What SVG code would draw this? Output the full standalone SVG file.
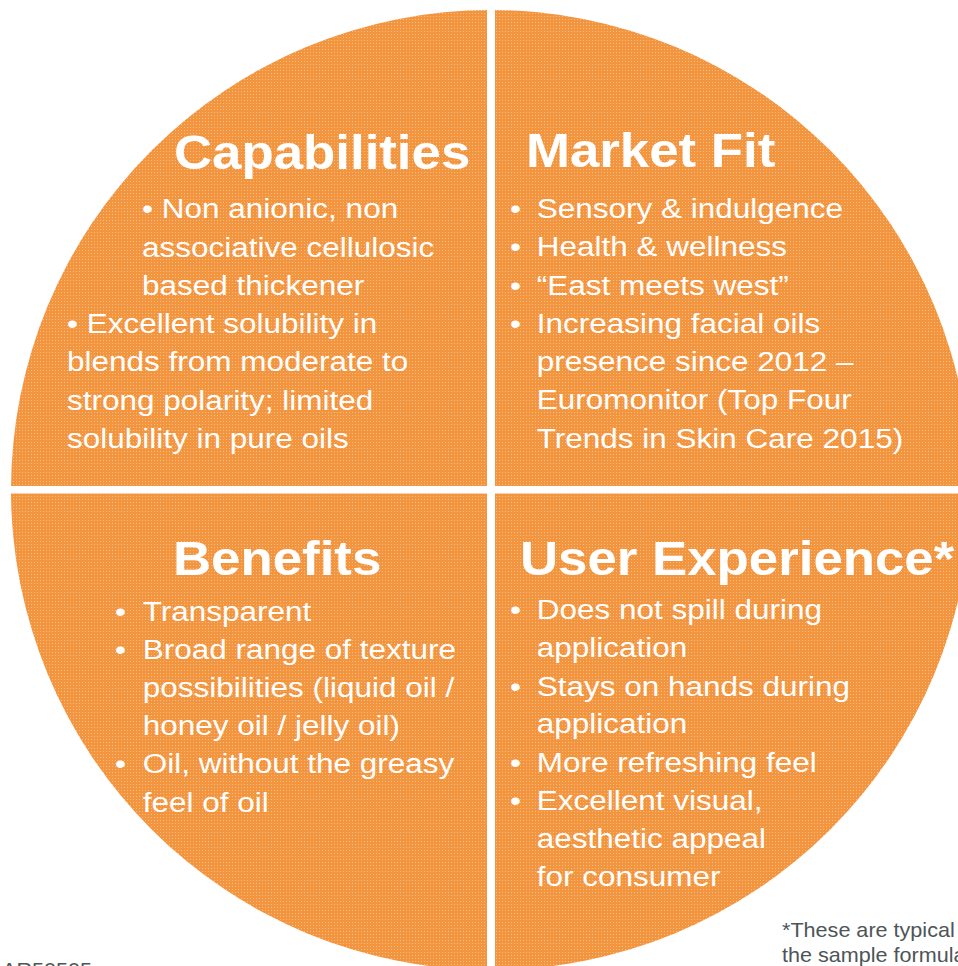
<svg xmlns="http://www.w3.org/2000/svg" width="958" height="966" viewBox="0 0 958 966">
  <defs>
    <pattern id="tex" width="3" height="3" patternUnits="userSpaceOnUse">
      <rect width="3" height="3" fill="#F3953F"/>
      <rect x="1" y="1" width="1" height="1" fill="#F9BE86"/>
    </pattern>
    <style>
      .t { font-family: "Liberation Sans", Arial, sans-serif; font-weight: bold; font-size: 48px; fill: #FFFFFF; }
      .b { font-family: "Liberation Sans", Arial, sans-serif; font-size: 28px; fill: #FFFFFF; }
      .n { font-family: "Liberation Sans", Arial, sans-serif; font-size: 20px; fill: #4D5558; }
    </style>
  </defs>
  <rect width="958" height="966" fill="#FFFFFF"/>
  <g id="circle">
    <circle cx="491" cy="490" r="480" fill="url(#tex)"/>
  </g>
  <g id="dividers">
    <rect x="487" y="0" width="8" height="966" fill="#FFFFFF"/>
    <rect x="0" y="486" width="958" height="7.5" fill="#FFFFFF"/>
  </g>

  <g id="capabilities">
    <text class="t" transform="translate(174,169) scale(1.1,1)">Capabilities</text>
    <text class="b" transform="translate(142,218.3) scale(1.125,1)">
      <tspan x="0" y="0">• Non anionic, non</tspan>
      <tspan x="0" y="38.3">associative cellulosic</tspan>
      <tspan x="0" y="76.6">based thickener</tspan>
    </text>
    <text class="b" transform="translate(67,333) scale(1.125,1)">
      <tspan x="0" y="0">• Excellent solubility in</tspan>
      <tspan x="0" y="38.3">blends from moderate to</tspan>
      <tspan x="0" y="76.6">strong polarity; limited</tspan>
      <tspan x="0" y="114.9">solubility in pure oils</tspan>
    </text>
  </g>

  <g id="market-fit">
    <text class="t" transform="translate(526,167.3) scale(1.1,1)">Market Fit</text>
    <text class="b" transform="translate(510,218.3) scale(1.125,1)">
      <tspan x="0" y="0">•</tspan>
      <tspan x="0" y="38.2">•</tspan>
      <tspan x="0" y="76.4">•</tspan>
      <tspan x="0" y="114.6">•</tspan>
    </text>
    <text class="b" transform="translate(536.7,218.3) scale(1.125,1)">
      <tspan x="0" y="0">Sensory &amp; indulgence</tspan>
      <tspan x="0" y="38.2">Health &amp; wellness</tspan>
      <tspan x="0" y="76.4">“East meets west”</tspan>
      <tspan x="0" y="114.6">Increasing facial oils</tspan>
      <tspan x="0" y="152.8">presence since 2012 –</tspan>
      <tspan x="0" y="191">Euromonitor (Top Four</tspan>
      <tspan x="0" y="229.3">Trends in Skin Care 2015)</tspan>
    </text>
  </g>

  <g id="benefits">
    <text class="t" transform="translate(173,575) scale(1.1,1)">Benefits</text>
    <text class="b" transform="translate(115,621) scale(1.125,1)">
      <tspan x="0" y="0">•</tspan>
      <tspan x="0" y="38.2">•</tspan>
      <tspan x="0" y="152.4">•</tspan>
    </text>
    <text class="b" transform="translate(142.7,621) scale(1.125,1)">
      <tspan x="0" y="0">Transparent</tspan>
      <tspan x="0" y="38.2">Broad range of texture</tspan>
      <tspan x="0" y="76.3">possibilities (liquid oil /</tspan>
      <tspan x="0" y="114.2">honey oil / jelly oil)</tspan>
      <tspan x="0" y="152.4">Oil, without the greasy</tspan>
      <tspan x="0" y="190.7">feel of oil</tspan>
    </text>
  </g>

  <g id="user-experience">
    <text class="t" transform="translate(520,575) scale(1.1,1)">User Experience*</text>
    <text class="b" transform="translate(510,619.3) scale(1.125,1)">
      <tspan x="0" y="0">•</tspan>
      <tspan x="0" y="76.4">•</tspan>
      <tspan x="0" y="152.4">•</tspan>
      <tspan x="0" y="190.7">•</tspan>
    </text>
    <text class="b" transform="translate(536.7,619.3) scale(1.125,1)">
      <tspan x="0" y="0">Does not spill during</tspan>
      <tspan x="0" y="38">application</tspan>
      <tspan x="0" y="76.4">Stays on hands during</tspan>
      <tspan x="0" y="114">application</tspan>
      <tspan x="0" y="152.4">More refreshing feel</tspan>
      <tspan x="0" y="190.7">Excellent visual,</tspan>
      <tspan x="0" y="229">aesthetic appeal</tspan>
      <tspan x="0" y="266.7">for consumer</tspan>
    </text>
  </g>

  <g id="footnote">
    <text class="n" transform="translate(782,937.3) scale(1.08,1)">
      <tspan x="0" y="0">*These are typical</tspan>
      <tspan x="0" y="24.4">the sample formula</tspan>
    </text>
    <text class="n" font-size="16" transform="translate(2,977) scale(1.08,1)">AR50505</text>
  </g>
</svg>
